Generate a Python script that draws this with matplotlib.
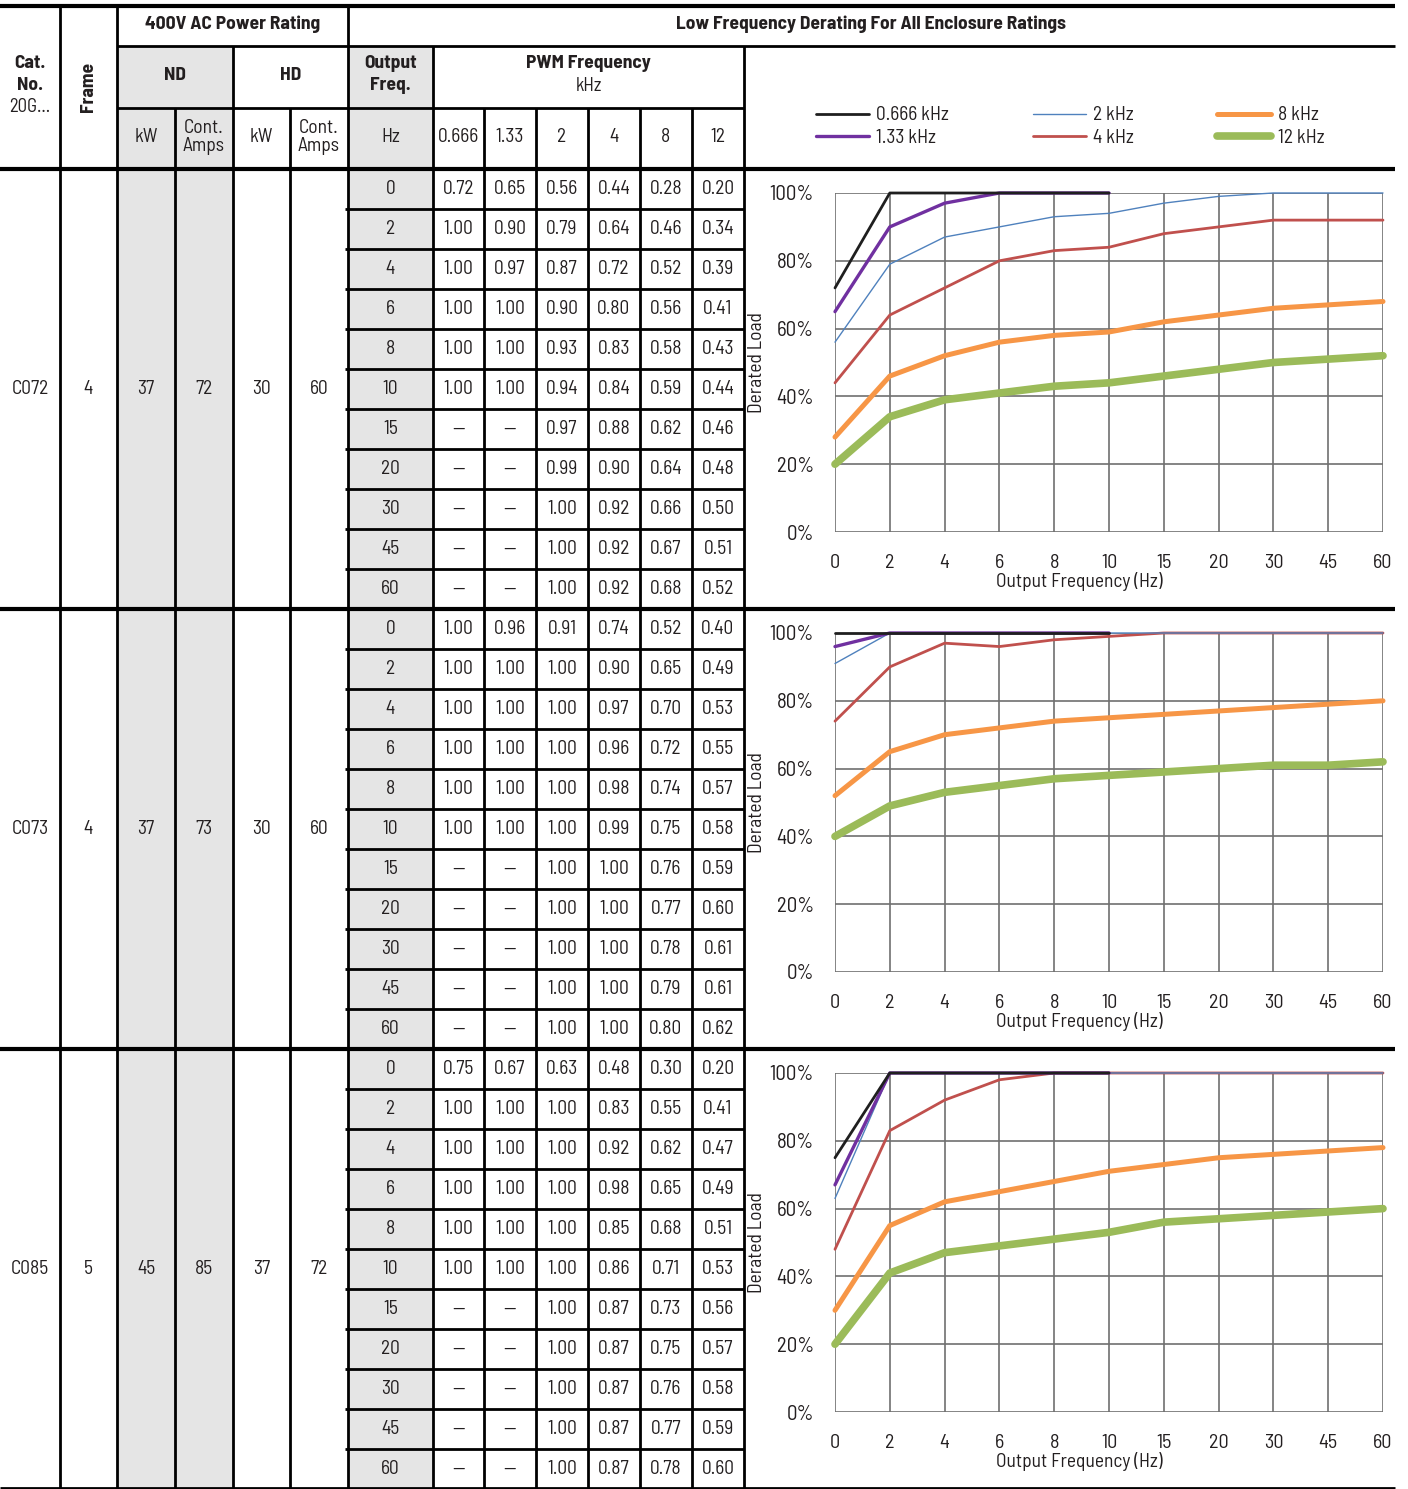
import numpy as np
import matplotlib
matplotlib.use("Agg")
import matplotlib.pyplot as plt
from matplotlib.patches import Rectangle

plt.rcParams['font.family'] = ['Barlow Semi Condensed', 'DejaVu Sans']

# ---------------- data ----------------
cat_nos = ["C072", "C073", "C085"]
frames = ["4", "4", "5"]
nd_kw = ["37", "37", "45"]
nd_amps = ["72", "73", "85"]
hd_kw = ["30", "30", "37"]
hd_amps = ["60", "60", "72"]

pwm_khz = ["0.666", "1.33", "2", "4", "8", "12"]
out_freq = ["0", "2", "4", "6", "8", "10", "15", "20", "30", "45", "60"]
nan = np.nan

c072_0666 = [0.72, 1.00, 1.00, 1.00, 1.00, 1.00, nan, nan, nan, nan, nan]
c072_133 = [0.65, 0.90, 0.97, 1.00, 1.00, 1.00, nan, nan, nan, nan, nan]
c072_2 = [0.56, 0.79, 0.87, 0.90, 0.93, 0.94, 0.97, 0.99, 1.00, 1.00, 1.00]
c072_4 = [0.44, 0.64, 0.72, 0.80, 0.83, 0.84, 0.88, 0.90, 0.92, 0.92, 0.92]
c072_8 = [0.28, 0.46, 0.52, 0.56, 0.58, 0.59, 0.62, 0.64, 0.66, 0.67, 0.68]
c072_12 = [0.20, 0.34, 0.39, 0.41, 0.43, 0.44, 0.46, 0.48, 0.50, 0.51, 0.52]

c073_0666 = [1.00, 1.00, 1.00, 1.00, 1.00, 1.00, nan, nan, nan, nan, nan]
c073_133 = [0.96, 1.00, 1.00, 1.00, 1.00, 1.00, nan, nan, nan, nan, nan]
c073_2 = [0.91, 1.00, 1.00, 1.00, 1.00, 1.00, 1.00, 1.00, 1.00, 1.00, 1.00]
c073_4 = [0.74, 0.90, 0.97, 0.96, 0.98, 0.99, 1.00, 1.00, 1.00, 1.00, 1.00]
c073_8 = [0.52, 0.65, 0.70, 0.72, 0.74, 0.75, 0.76, 0.77, 0.78, 0.79, 0.80]
c073_12 = [0.40, 0.49, 0.53, 0.55, 0.57, 0.58, 0.59, 0.60, 0.61, 0.61, 0.62]

c085_0666 = [0.75, 1.00, 1.00, 1.00, 1.00, 1.00, nan, nan, nan, nan, nan]
c085_133 = [0.67, 1.00, 1.00, 1.00, 1.00, 1.00, nan, nan, nan, nan, nan]
c085_2 = [0.63, 1.00, 1.00, 1.00, 1.00, 1.00, 1.00, 1.00, 1.00, 1.00, 1.00]
c085_4 = [0.48, 0.83, 0.92, 0.98, 0.85, 0.86, 0.87, 0.87, 0.87, 0.87, 0.87]
c085_8 = [0.30, 0.55, 0.62, 0.65, 0.68, 0.71, 0.73, 0.75, 0.76, 0.77, 0.78]
c085_12 = [0.20, 0.41, 0.47, 0.49, 0.51, 0.53, 0.56, 0.57, 0.58, 0.59, 0.60]
# the 4 kHz curve as drawn in the C085 chart
c085_4_chart = [0.48, 0.83, 0.92, 0.98, 1.00, 1.00, 1.00, 1.00, 1.00, 1.00, 1.00]

tables = [
    [c072_0666, c072_133, c072_2, c072_4, c072_8, c072_12],
    [c073_0666, c073_133, c073_2, c073_4, c073_8, c073_12],
    [c085_0666, c085_133, c085_2, c085_4, c085_8, c085_12],
]
charts = [
    tables[0],
    tables[1],
    [c085_0666, c085_133, c085_2, c085_4_chart, c085_8, c085_12],
]
y_ticks = [0, 0.2, 0.4, 0.6, 0.8, 1.0]

# ---------------- styles ----------------
line_colors = ["#1f1f1f", "#7030a0", "#4f81bd", "#c0504d", "#f79646", "#9bbb59"]
line_widths = [2.0, 2.4, 1.0, 2.0, 3.6, 5.5]
TXT = "#231f20"
GREY = "#e5e5e5"

W, H = 1408, 1489
fig = plt.figure(figsize=(W / 100, H / 100), dpi=100)
tab = fig.add_axes([0, 0, 1, 1])
tab.set_xlim(0, W)
tab.set_ylim(H, 0)
tab.axis("off")

xs = [0, 60, 117, 175, 233, 290, 348, 433, 484, 536, 588, 640, 692, 744]
XR = 1395
Y0, Y1, Y2, Y3 = 6, 46, 108, 169
ROW_H = 40
n_rows = len(out_freq)
GROUP_H = ROW_H * n_rows

def rect(x0, x1, y0, y1, color=GREY):
    tab.add_patch(Rectangle((x0, y0), x1 - x0, y1 - y0, facecolor=color, edgecolor="none", zorder=0))

def hline(y, x0, x1, lw=2.0):
    tab.plot([x0, x1], [y, y], color="black", lw=lw, solid_capstyle="butt", zorder=3)

def vline(x, y0, y1, lw=2.0):
    tab.plot([x, x], [y0, y1], color="black", lw=lw, solid_capstyle="butt", zorder=3)

def txt(x, y, s, size=14, weight="normal", **kw):
    tab.text(x, y, s, ha="center", va="center", fontsize=size, fontweight=weight, color=TXT, **kw)

ybot = Y3 + GROUP_H * len(cat_nos)

# grey shading
rect(xs[2], xs[4], Y1, ybot)
rect(xs[6], xs[7], Y1, ybot)

# header text
txt((xs[0] + xs[1]) / 2, 64, "Cat.", size=14, weight="bold")
txt((xs[0] + xs[1]) / 2, 86, "No.", size=14, weight="bold")
txt((xs[0] + xs[1]) / 2, 107, "20G...", size=13.5)
txt((xs[1] + xs[2]) / 2, 87, "Frame", size=14, weight="bold", rotation=90)
txt((xs[2] + xs[6]) / 2, 24, "400V AC Power Rating", size=14, weight="bold")
txt((xs[6] + XR) / 2, 24, "Low Frequency Derating For All Enclosure Ratings", size=14, weight="bold")
txt((xs[2] + xs[4]) / 2, 75, "ND", size=14, weight="bold")
txt((xs[4] + xs[6]) / 2, 75, "HD", size=14, weight="bold")
txt((xs[6] + xs[7]) / 2, 64, "Output", size=14, weight="bold")
txt((xs[6] + xs[7]) / 2, 86, "Freq.", size=14, weight="bold")
txt((xs[7] + xs[13]) / 2, 64, "PWM Frequency", size=14, weight="bold")
txt((xs[7] + xs[13]) / 2, 86, "kHz", size=13.5)
sub = ["kW", "Cont.\nAmps", "kW", "Cont.\nAmps", "Hz"] + pwm_khz
for i, s in enumerate(sub):
    txt((xs[2 + i] + xs[3 + i]) / 2, 137, s, size=14, linespacing=0.95)

# header lines
hline(Y0, 0, XR, lw=3)
hline(Y1, xs[2], XR)
hline(Y2, xs[2], xs[13])
hline(Y3, 0, XR, lw=3)
for x in [xs[1], xs[2], xs[6]]:
    vline(x, Y0, ybot)
for x in [xs[4], xs[7], xs[13]]:
    vline(x, Y1, ybot)
for x in [xs[3], xs[5]] + xs[8:13]:
    vline(x, Y2, ybot)

# data rows
for g in range(len(cat_nos)):
    top = Y3 + g * GROUP_H
    mid = top + GROUP_H / 2
    for i, s in enumerate([cat_nos[g], frames[g], nd_kw[g], nd_amps[g], hd_kw[g], hd_amps[g]]):
        txt((xs[i] + xs[i + 1]) / 2, mid, s, size=14)
    for r in range(n_rows):
        yc = top + ROW_H * (r + 0.5)
        txt((xs[6] + xs[7]) / 2, yc, out_freq[r], size=14)
        for c in range(6):
            v = tables[g][c][r]
            s = "\u2014" if np.isnan(v) else f"{v:.2f}"
            txt((xs[7 + c] + xs[8 + c]) / 2, yc, s, size=14)
        if r > 0:
            hline(top + ROW_H * r, xs[6] - 3, xs[13])
    if g > 0:
        hline(top, 0, XR, lw=3)
hline(ybot - 1, 0, XR, lw=2)

# ---------------- charts ----------------
CX0, CX1 = 835, 1383
CY0, CY1 = 193, 532
xpos = np.arange(n_rows)
handles = []
for g in range(len(cat_nos)):
    top = CY0 + g * GROUP_H
    bot = CY1 + g * GROUP_H
    ax = fig.add_axes([CX0 / W, 1 - bot / H, (CX1 - CX0) / W, (bot - top) / H])
    ax.set_xlim(0, n_rows - 1)
    ax.set_ylim(0, 1)
    ax.set_xticks(xpos)
    ax.set_xticklabels(out_freq)
    ax.set_yticks(y_ticks)
    ax.set_yticklabels([f"{int(round(t * 100))}%" for t in y_ticks])
    ax.grid(True, color="#6f6f6f", lw=1.2)
    ax.set_axisbelow(True)
    for sp in ax.spines.values():
        sp.set_visible(False)
    ax.tick_params(axis="x", length=0, labelsize=14.5, labelcolor=TXT, pad=16)
    ax.tick_params(axis="y", length=0, labelsize=15, labelcolor=TXT, pad=15)
    ax.patch.set_alpha(0)
    n = len(charts[g])
    for k, series in enumerate(charts[g]):
        arr = np.array(series, dtype=float)
        m = ~np.isnan(arr)
        (ln,) = ax.plot(xpos[m], arr[m], color=line_colors[k], lw=line_widths[k],
                        solid_capstyle="round", clip_on=False, zorder=3 + (n - k) * 0.1,
                        label=f"{pwm_khz[k]} kHz")
        if g == 0:
            handles.append(ln)
    ax.text(-0.142, 0.5, "Derated Load", transform=ax.transAxes, rotation=90,
            ha="center", va="center", fontsize=14, color=TXT)
    ax.text(0.445, -0.147, "Output Frequency (Hz)", transform=ax.transAxes,
            ha="center", va="center", fontsize=14, color=TXT)

fig.legend(handles, [h.get_label() for h in handles], ncol=3, frameon=False,
           loc="center", bbox_to_anchor=(1070 / W, 1 - 126.5 / H),
           fontsize=14, handlelength=2.75, handletextpad=0.36, columnspacing=4.3,
           labelspacing=0.22, labelcolor=TXT)

fig.savefig("out.png", dpi=100)
